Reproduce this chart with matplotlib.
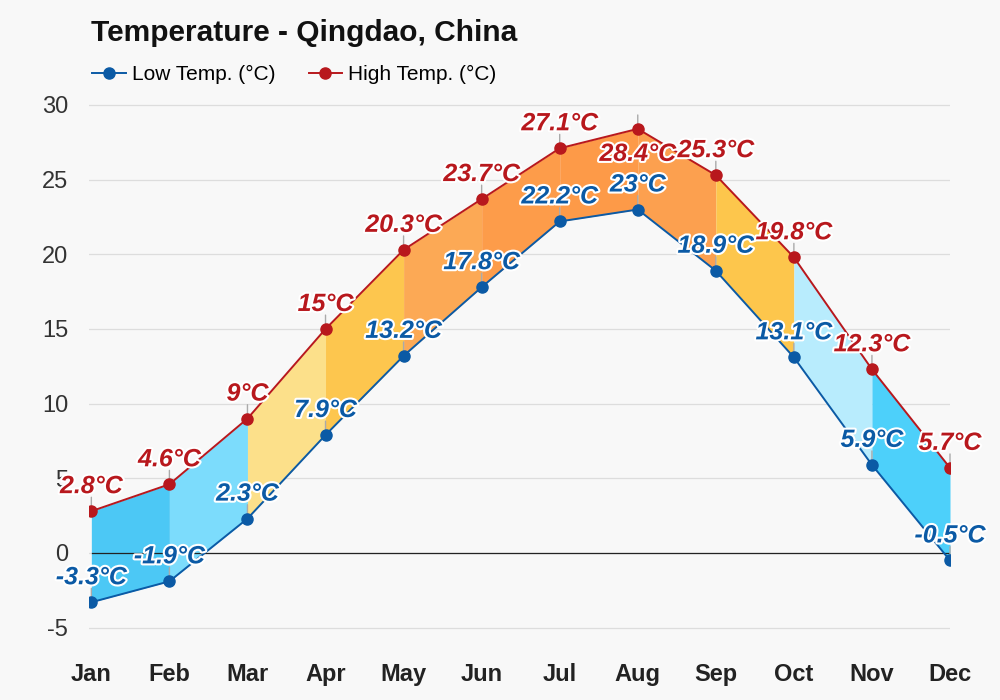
import numpy as np
import matplotlib
matplotlib.use("Agg")
import matplotlib.pyplot as plt
import matplotlib.patheffects as pe

plt.rcParams["font.family"] = ["Liberation Sans", "DejaVu Sans"]
plt.rcParams["axes.unicode_minus"] = False

months = ["Jan", "Feb", "Mar", "Apr", "May", "Jun", "Jul", "Aug", "Sep", "Oct", "Nov", "Dec"]
high_temp = [2.8, 4.6, 9, 15, 20.3, 23.7, 27.1, 28.4, 25.3, 19.8, 12.3, 5.7]
low_temp = [-3.3, -1.9, 2.3, 7.9, 13.2, 17.8, 22.2, 23, 18.9, 13.1, 5.9, -0.5]
high_labels = ["2.8°C", "4.6°C", "9°C", "15°C", "20.3°C", "23.7°C", "27.1°C", "28.4°C", "25.3°C", "19.8°C", "12.3°C", "5.7°C"]
low_labels = ["-3.3°C", "-1.9°C", "2.3°C", "7.9°C", "13.2°C", "17.8°C", "22.2°C", "23°C", "18.9°C", "13.1°C", "5.9°C", "-0.5°C"]
# fill colour between consecutive months
seg_colors = ["#4cc8f5", "#7cdcfc", "#fce08a", "#fdc64e", "#fca955", "#fd9c4a",
              "#fd9a48", "#fca04f", "#fdc64c", "#b8ecfd", "#4dd0fa"]

low_color = "#0b5aa5"
high_color = "#b8181d"
bg = "#f8f8f8"

fig = plt.figure(figsize=(10, 7), dpi=100, facecolor=bg)
ax = fig.add_axes([0.089, 0.0607, 0.861, 0.80])
ax.set_facecolor(bg)

x = np.arange(len(months))
for i in range(len(months) - 1):
    xs = x[i:i + 2]
    ax.fill_between(xs, low_temp[i:i + 2], high_temp[i:i + 2], color=seg_colors[i], linewidth=0, zorder=2)

ax.axhline(0, color="#222222", linewidth=0.9, zorder=2.5, xmin=0.003)
ax.plot(x, low_temp, color=low_color, marker="o", markersize=8, linewidth=1.4, zorder=4, label="Low Temp. (°C)")
ax.plot(x, high_temp, color=high_color, marker="o", markersize=8, linewidth=1.4, zorder=4, label="High Temp. (°C)")

outline = [pe.withStroke(linewidth=3, foreground="white")]
for i in range(len(months)):
    for vals, labs, col in [(high_temp, high_labels, high_color), (low_temp, low_labels, low_color)]:
        dy = 18
        if col == high_color and i == 7:
            dy = -18
        ax.annotate("", xy=(x[i], vals[i]), xytext=(0, 10), textcoords="offset points",
                    arrowprops=dict(arrowstyle="-", color="#aaaaaa", lw=1, shrinkA=0, shrinkB=0), zorder=3)
        ax.annotate(labs[i], xy=(x[i], vals[i]), xytext=(0, dy), textcoords="offset points",
                    ha="center", va="center", fontsize=18, fontweight="bold", fontstyle="italic",
                    color=col, path_effects=outline, zorder=6, annotation_clip=False)

ax.set_xlim(-0.03, 11)
ax.set_ylim(-7, 30.5)
ax.set_yticks([-5, 0, 5, 10, 15, 20, 25, 30])
ax.set_xticks(x)
ax.set_xticklabels(months, fontsize=17, fontweight="bold", color="#222222")
ax.tick_params(axis="y", labelsize=17, colors="#333333", length=0, pad=15)
ax.tick_params(axis="x", length=0, pad=4)
ax.grid(axis="y", color="#dddddd", linewidth=0.9, zorder=0)
for s in ax.spines.values():
    s.set_visible(False)

fig.text(0.091, 0.953, "Temperature - Qingdao, China", fontsize=21.5, fontweight="bold", va="center", color="#111111")
ax.legend(loc="lower left", bbox_to_anchor=(-0.012, 1.0), ncol=2, frameon=False, fontsize=15,
          handlelength=1.6, columnspacing=1.6, handletextpad=0.3, borderaxespad=0.25)

plt.savefig("out.png", dpi=100, facecolor=bg)
plt.close()
